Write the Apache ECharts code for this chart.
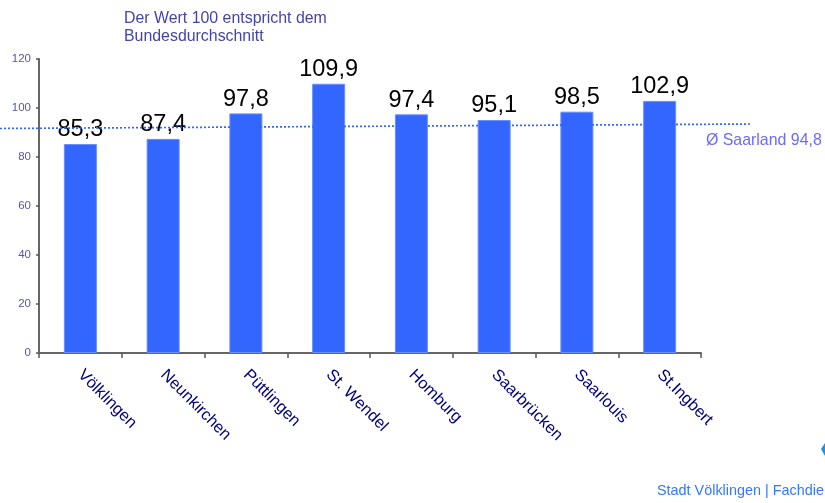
<!DOCTYPE html>
<html><head><meta charset="utf-8">
<style>html,body{margin:0;padding:0;background:#fff}#c{width:825px;height:503px}</style>
<script src="https://cdn.jsdelivr.net/npm/echarts@6/dist/echarts.min.js"></script>
</head><body><div id="c"></div>
<script>
const categories = ["Völklingen","Neunkirchen","Püttlingen","St. Wendel","Homburg","Saarbrücken","Saarlouis","St.Ingbert"];
const values = [85.3,87.4,97.8,109.9,97.4,95.1,98.5,102.9];
const yTicks = {min:0,max:120,interval:20};
const titleLines = "Der Wert 100 entspricht dem\nBundesdurchschnitt";
const avgLabel = "Ø Saarland 94,8";
const footer = "Stadt Völklingen | Fachdie";
const font = "Liberation Sans, Arial, sans-serif";
const chart = echarts.init(document.getElementById('c'),null,{renderer:'canvas'});
chart.setOption({
  animation:false,
  backgroundColor:'#fff',
  grid:{left:39,right:124,top:59,bottom:150},
  xAxis:{type:'category',data:categories,
    axisLine:{lineStyle:{color:'#666',width:2}},
    axisTick:{show:true,alignWithLabel:false,length:5,lineStyle:{color:'#555',width:1.5}},
    axisLabel:{interval:0,rotate:-45,align:'left',verticalAlign:'top',margin:8,padding:[0,0,0,8],color:'#000080',fontFamily:font,fontSize:16.4}},
  yAxis:{type:'value',min:yTicks.min,max:yTicks.max,interval:yTicks.interval,
    axisLine:{show:true,lineStyle:{color:'#666',width:2}},
    axisTick:{show:true,length:3,lineStyle:{color:'#555',width:1.5}},
    splitLine:{show:false},
    axisLabel:{color:'#5555aa',fontFamily:font,fontSize:11.5,margin:8}},
  series:[
    {type:'line',data:[],z:1,silent:true,symbol:'none',
     markLine:{silent:true,symbol:'none',label:{show:false},animation:false,
       lineStyle:{type:[2,2],color:'#3366ff',width:1.7},
       data:[[{x:0,y:128.5},{x:752,y:124}]]}},
    {type:'bar',data:values,z:2,barWidth:33,
     itemStyle:{color:'#3366ff',borderColor:'#6b8fff',borderWidth:1},
     label:{show:true,position:'top',distance:2,color:'#000',fontFamily:font,fontSize:23.5,
       formatter:p=>String(p.value).replace('.',',')}}
  ],
  graphic:[
    {type:'text',x:124,y:9,style:{text:titleLines,fill:'#4444aa',font:'15.9px '+font,lineHeight:18.5}},
    {type:'text',x:706,y:133,style:{text:avgLabel,fill:'#6a6aff',font:'15.9px '+font}},
    {type:'text',x:657,y:484,style:{text:footer,fill:'#3377ff',font:'14.4px '+font}},
    {type:'polygon',shape:{points:[[821,449],[825,443],[825,456]]},style:{fill:'#1e90e8'}}
  ]
});
</script></body></html>
